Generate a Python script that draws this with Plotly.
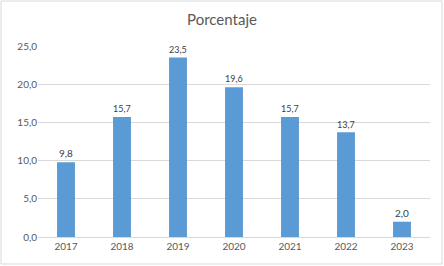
import plotly.graph_objects as go

years = ["2017", "2018", "2019", "2020", "2021", "2022", "2023"]
porcentaje = [9.8, 15.7, 23.5, 19.6, 15.7, 13.7, 2.0]
y_ticks = [0, 5, 10, 15, 20, 25]

W, H = 444, 266
L, R, T, B = 38, 14, 46, 29
pw, ph = W - L - R, H - T - B

def px_x(x):
    return (x - L) / pw

def px_y(y):
    return (H - B - y) / ph

fig = go.Figure(go.Bar(
    x=years, y=porcentaje,
    marker=dict(color="#5B9BD5", line=dict(width=0)),
    texttemplate="%{y:.1f}", textposition="outside",
    textfont=dict(size=10, color="#404040", family="Lato, Carlito, sans-serif"),
    cliponaxis=False,
))

fig.update_layout(
    width=W, height=H,
    margin=dict(l=L, r=R, t=T, b=B),
    paper_bgcolor="white", plot_bgcolor="white",
    separators=",.",
    bargap=0.68,
    showlegend=False,
    title=dict(text="Porcentaje", x=0.5, xanchor="center", y=1 - 20 / H, yanchor="middle",
               font=dict(size=15, color="#595959", family="Lato, Carlito, sans-serif")),
    font=dict(family="Lato, Carlito, sans-serif", size=10, color="#595959"),
    xaxis=dict(showgrid=False, showline=True, linecolor="#D9D9D9", linewidth=1,
               ticks="", tickfont=dict(size=10, color="#595959")),
    yaxis=dict(range=[0, 25], tickvals=y_ticks, tickformat=".1f", showgrid=True,
               gridcolor="#D9D9D9", gridwidth=1, zeroline=False, showline=False,
               ticks="", tickfont=dict(size=10, color="#595959")),
    shapes=[dict(type="rect", xref="paper", yref="paper",
                 x0=px_x(1), x1=px_x(442), y0=px_y(264), y1=px_y(1),
                 line=dict(color="#D9D9D9", width=1), layer="below")],
)

fig.write_html("out.html", config={"displayModeBar": False},
               post_script="document.body.style.margin='0';document.body.style.overflow='hidden';")
